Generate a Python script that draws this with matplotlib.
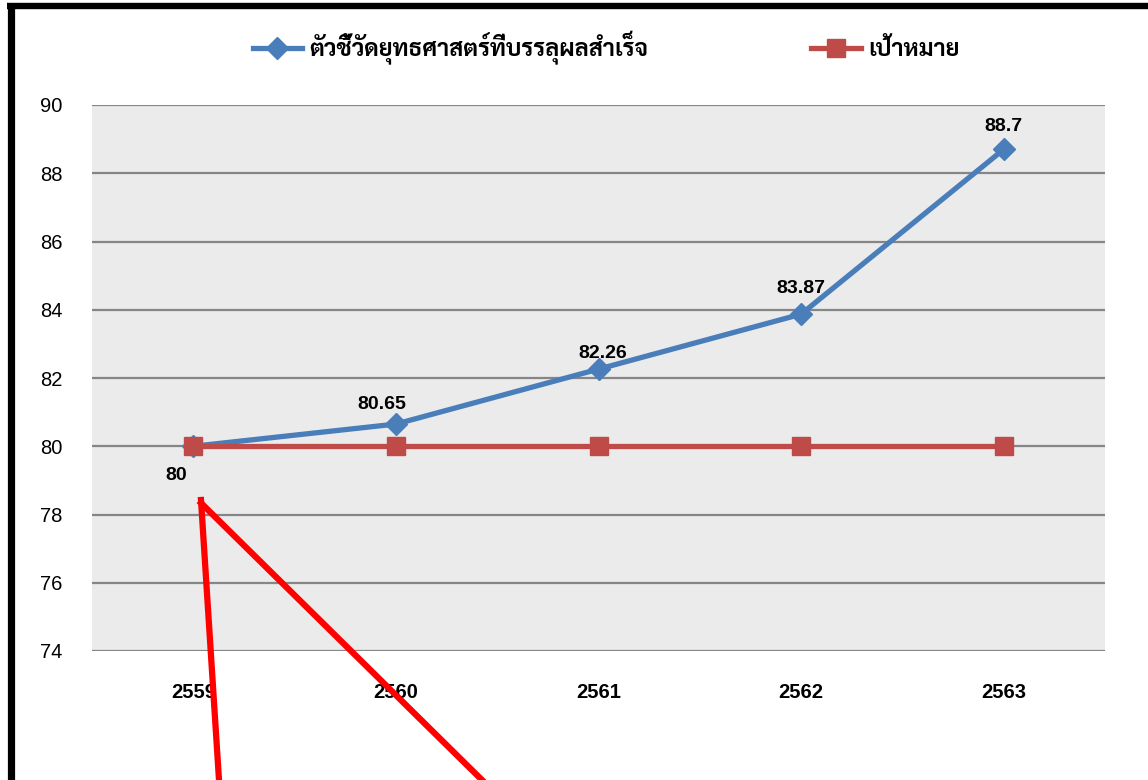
import matplotlib
matplotlib.use("Agg")
import matplotlib.pyplot as plt
from matplotlib.lines import Line2D

# ---- data ----
years = ["2559", "2560", "2561", "2562", "2563"]
achieved = [80, 80.65, 82.26, 83.87, 88.7]
target = [80, 80, 80, 80, 80]
achieved_labels = ["80", "80.65", "82.26", "83.87", "88.7"]
series_names = ["ตัวชี้วัดยุทธศาสตร์ที่บรรลุผลสำเร็จ", "เป้าหมาย"]
yticks = [74, 76, 78, 80, 82, 84, 86, 88, 90]

thai_family = ["Sarabun", "Noto Sans Thai Looped", "Loma", "DejaVu Sans"]
num_family = ["Liberation Sans", "DejaVu Sans"]

W, H = 1148, 780
fig = plt.figure(figsize=(W / 100, H / 100), dpi=100)
fig.patch.set_facecolor("white")

ax = fig.add_axes([92 / W, 1 - 651 / H, (1105 - 92) / W, (651 - 105) / H])
ax.set_facecolor("#EBEBEB")
x = list(range(len(years)))
blue = "#4A7EBB"
red = "#BE4B48"
ax.plot(x, achieved, color=blue, lw=3.8, marker="D", ms=11, zorder=4,
        label=series_names[0])
ax.plot(x, target, color=red, lw=3.8, marker="s", ms=12.5, zorder=5,
        label=series_names[1])

ax.set_xlim(-0.5, len(years) - 0.5)
ax.set_ylim(74, 90)
ax.set_yticks(yticks)
ax.set_xticks(x)
ax.set_xticklabels(years, fontweight="bold")
ax.tick_params(axis="both", length=0, labelsize=14.5)
ax.tick_params(axis="x", pad=23)
ax.tick_params(axis="y", pad=21)
for lab in ax.get_yticklabels() + ax.get_xticklabels():
    lab.set_fontfamily(num_family)
ax.grid(axis="y", color="#868686", lw=1.6)
ax.set_axisbelow(True)
for s in ax.spines.values():
    s.set_visible(False)

offsets = [(-17, -29), (-14, 20), (4, 16), (0, 26), (0, 23)]
for xi, v, lab, off in zip(x, achieved, achieved_labels, offsets):
    ax.annotate(lab, (xi, v), xytext=off, textcoords="offset pixels",
                ha="center", va="center", fontsize=14, fontweight="bold",
                fontfamily=num_family, zorder=6)

leg = fig.legend(loc="center", bbox_to_anchor=(606 / W, 1 - 48 / H), ncol=2,
                 frameon=False, handlelength=2.1, columnspacing=6.9,
                 handletextpad=0.3,
                 prop={"family": thai_family, "size": 17, "weight": "bold"})

# black frame
fig.add_artist(Line2D([10.5 / W, 10.5 / W], [0, 1 - 3 / H], color="black", lw=5.2,
                      transform=fig.transFigure, solid_capstyle="butt"))
fig.add_artist(Line2D([7 / W, 1], [1 - 6 / H, 1 - 6 / H], color="black", lw=4.6,
                      transform=fig.transFigure, solid_capstyle="butt"))

# red annotation strokes
fig.add_artist(Line2D([201 / W, 219 / W], [1 - 500 / H, 0], color="#FF0000", lw=4.5,
                      transform=fig.transFigure, zorder=10))
fig.add_artist(Line2D([201 / W, 482 / W], [1 - 503 / H, 0], color="#FF0000", lw=4.5,
                      transform=fig.transFigure, zorder=10))

fig.savefig("out.png", dpi=100)
